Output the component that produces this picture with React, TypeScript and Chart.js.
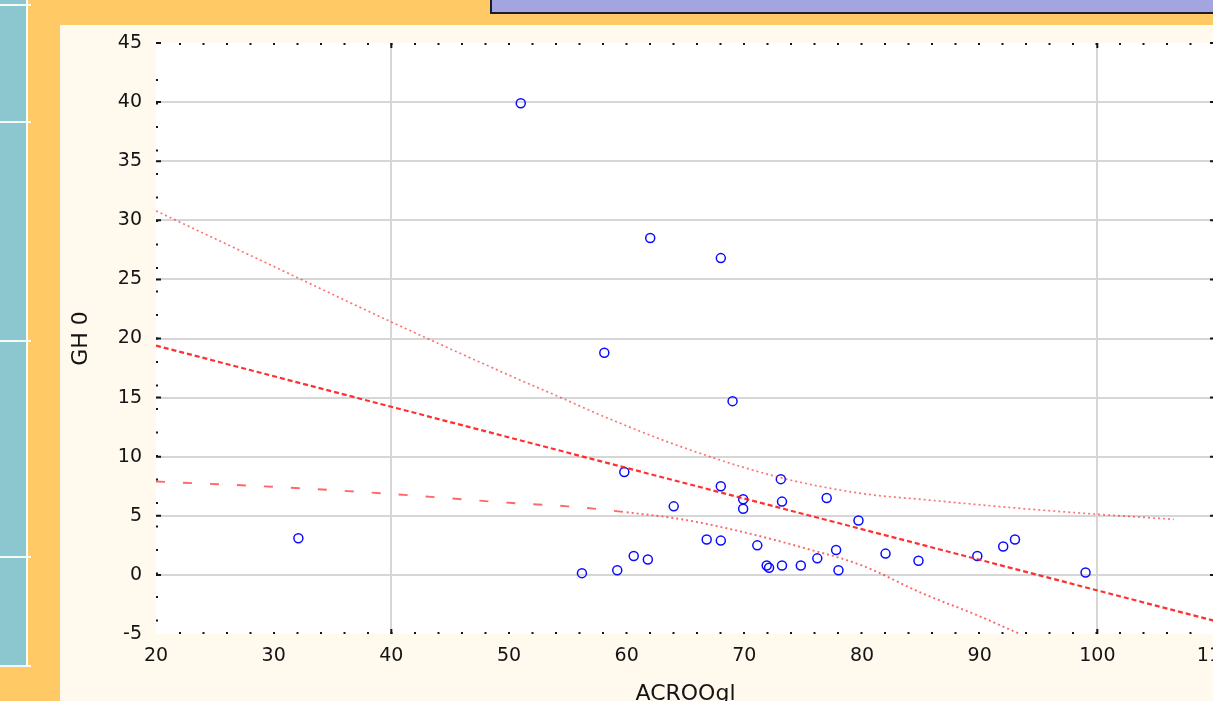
import React, { useEffect, useRef } from 'react';
import { Chart, registerables } from 'chart.js';

Chart.register(...registerables);

// Observations (ACROOgl, GH 0)
const pointX = [32.1, 51.0, 56.2, 58.1, 59.2, 59.8, 60.6, 61.8, 62.0, 64.0, 66.8, 68.0, 68.0, 68.0, 69.0, 69.9, 69.9, 71.1, 71.9, 72.1, 73.1, 73.2, 73.2, 74.8, 76.2, 77.0, 77.8, 78.0, 79.7, 82.0, 84.8, 89.8, 92.0, 93.0, 99.0];
const pointY = [3.1, 39.9, 0.15, 18.8, 0.4, 8.7, 1.6, 1.3, 28.5, 5.8, 3.0, 2.9, 7.5, 26.8, 14.7, 6.4, 5.6, 2.5, 0.8, 0.6, 8.1, 6.2, 0.8, 0.8, 1.4, 6.5, 2.1, 0.4, 4.6, 1.8, 1.2, 1.6, 2.4, 3.0, 0.2];

// Regression line
const fitX = [20, 110];
const fitY = [19.4, -3.9];

// Upper 95% confidence band
const upperX = [20, 30, 40, 50, 54.4, 58.3, 64.6, 72.8, 79.9, 85.5, 93.2, 99.7, 106.5];
const upperY = [30.8, 26.1, 21.4, 16.9, 15.0, 13.3, 10.85, 8.3, 6.9, 6.35, 5.65, 5.15, 4.7];

// Lower 95% confidence band
const lowerX = [20, 30, 40, 50, 55, 60, 65, 70, 75, 80, 85, 90, 93.3];
const lowerY = [7.9, 7.45, 6.85, 6.1, 5.8, 5.3, 4.65, 3.6, 2.3, 0.8, -1.5, -3.5, -4.95];

// Axis
const xMin = 20, xMax = 110, xStep = 10;
const yMin = -5, yMax = 45, yStep = 5;
const xGridValues = [40, 100];
const yGridValues = [0, 5, 10, 15, 20, 25, 30, 35, 40];
const xTitle = 'ACROOgl';
const yTitle = 'GH 0';

const toXY = (xs: number[], ys: number[]) => xs.map((x, i) => ({ x, y: ys[i] }));

const GRID = '#d6d6d6';
const FONT = '"DejaVu Sans", "Verdana", sans-serif';
const TEXT = '#141414';

const framePlugin = {
  id: 'frame',
  beforeDraw(chart: any) {
    const { ctx, chartArea: a } = chart;
    ctx.save();
    ctx.fillStyle = '#ffffff';
    ctx.fillRect(a.left, a.top, a.right - a.left, a.bottom - a.top);
    ctx.restore();
  },
  afterDraw(chart: any) {
    const { ctx, chartArea: a, scales } = chart;
    ctx.save();
    ctx.strokeStyle = '#151515';
    ctx.lineWidth = 2;
    ctx.setLineDash([2, 21.5]);
    ctx.beginPath();
    ctx.moveTo(a.left + 23, a.top + 1);
    ctx.lineTo(a.right, a.top + 1);
    ctx.moveTo(a.left + 23, a.bottom - 1);
    ctx.lineTo(a.right, a.bottom - 1);
    ctx.moveTo(a.left + 1, a.top + 36);
    ctx.lineTo(a.left + 1, a.bottom);
    ctx.moveTo(a.right - 1, a.top + 36);
    ctx.lineTo(a.right - 1, a.bottom);
    ctx.stroke();
    ctx.setLineDash([]);
    ctx.beginPath();
    yGridValues.concat([yMax]).forEach((v) => {
      const y = scales.y.getPixelForValue(v);
      ctx.moveTo(a.left, y);
      ctx.lineTo(a.left + 5, y);
      ctx.moveTo(a.right - 5, y);
      ctx.lineTo(a.right, y);
    });
    xGridValues.forEach((v) => {
      const x = scales.x.getPixelForValue(v);
      ctx.moveTo(x, a.top);
      ctx.lineTo(x, a.top + 5);
      ctx.moveTo(x, a.bottom - 5);
      ctx.lineTo(x, a.bottom);
    });
    ctx.stroke();
    ctx.restore();
  },
};

export default function App() {
  const ref = useRef<HTMLCanvasElement>(null);

  useEffect(() => {
    const canvas = ref.current;
    if (!canvas) return;
    const chart = new Chart(canvas, {
      type: 'scatter',
      data: {
        datasets: [
          {
            label: 'GH 0',
            data: toXY(pointX, pointY),
            pointStyle: 'circle',
            pointRadius: 4.5,
            pointBorderWidth: 1.5,
            borderColor: 'rgba(10,10,255,1)',
            backgroundColor: 'rgba(0,0,0,0)',
            order: 2,
          },
          {
            label: 'fit',
            data: toXY(fitX, fitY),
            showLine: true,
            pointRadius: 0,
            borderColor: 'rgba(255,25,25,0.9)',
            borderWidth: 2.2,
            borderDash: [5, 3],
            order: 1,
          },
          {
            label: 'upper',
            data: toXY(upperX, upperY),
            showLine: true,
            pointRadius: 0,
            cubicInterpolationMode: 'monotone',
            borderColor: 'rgba(255,40,40,0.65)',
            borderWidth: 1.7,
            borderDash: [2, 3],
            order: 1,
          },
          {
            label: 'lower',
            data: toXY(lowerX, lowerY),
            showLine: true,
            pointRadius: 0,
            cubicInterpolationMode: 'monotone',
            borderColor: 'rgba(255,40,40,0.7)',
            borderWidth: 1.9,
            segment: {
              borderDash: (c: any) => (c.p0.parsed.x < 58 ? [9, 18] : [2, 3]),
            },
            order: 1,
          },
        ] as any,
      },
      options: {
        animation: false,
        responsive: false,
        layout: { padding: { top: 18, left: 0, right: 45, bottom: 0 } },
        plugins: {
          legend: { display: false },
          tooltip: { enabled: false },
        },
        scales: {
          x: {
            type: 'linear',
            min: xMin,
            max: xMax,
            afterFit: (s: any) => { s.height = 81; s.paddingLeft = 0; s.paddingRight = 0; },
            ticks: {
              stepSize: xStep,
              autoSkip: false,
              maxRotation: 0,
              padding: 11,
              color: TEXT,
              font: { family: FONT, size: 19 },
            },
            grid: {
              drawTicks: false,
              lineWidth: 2,
              color: (c: any) => (c.tick && xGridValues.includes(c.tick.value) ? GRID : 'rgba(0,0,0,0)'),
            },
            border: { display: false },
            title: {
              display: true,
              text: xTitle,
              color: TEXT,
              font: { family: FONT, size: 22 },
              padding: { top: 0, bottom: 8 },
            },
          },
          y: {
            type: 'linear',
            min: yMin,
            max: yMax,
            afterFit: (s: any) => { s.width = 96; s.paddingTop = 0; s.paddingBottom = 0; },
            ticks: {
              stepSize: yStep,
              autoSkip: false,
              padding: 14,
              color: TEXT,
              font: { family: FONT, size: 19 },
            },
            grid: {
              drawTicks: false,
              lineWidth: 2,
              color: (c: any) => (c.tick && yGridValues.includes(c.tick.value) ? GRID : 'rgba(0,0,0,0)'),
            },
            border: { display: false },
            title: {
              display: true,
              text: yTitle,
              color: TEXT,
              font: { family: FONT, size: 22 },
              padding: { top: 8, bottom: 0 },
            },
          },
        },
      },
      plugins: [framePlugin],
    });
    return () => chart.destroy();
  }, []);

  const hLines = [4, 121, 340, 556, 665];

  return (
    <div style={{ position: 'fixed', left: 0, top: 0, width: 1213, height: 701, overflow: 'hidden', background: '#FFCA66' }}>
      <div style={{ position: 'absolute', left: 0, top: 0, width: 27, height: 666, background: '#8CC6CF' }} />
      <div style={{ position: 'absolute', left: 26, top: 0, width: 2, height: 667, background: '#F4FCFD' }} />
      {hLines.map((y) => (
        <div key={y} style={{ position: 'absolute', left: 0, top: y, width: 31, height: 2, background: '#F4FCFD' }} />
      ))}
      <div
        style={{
          position: 'absolute', left: 490, top: -12, width: 900, height: 26, boxSizing: 'border-box',
          background: '#A4A4DE', border: '2px solid #1c1c30',
        }}
      />
      <div style={{ position: 'absolute', left: 60, top: 25, width: 1300, height: 800, background: '#FFF9EE' }} />
      <canvas
        ref={ref}
        width={1200}
        height={690}
        style={{ position: 'absolute', left: 60, top: 25, width: 1200, height: 690 }}
      />
    </div>
  );
}
